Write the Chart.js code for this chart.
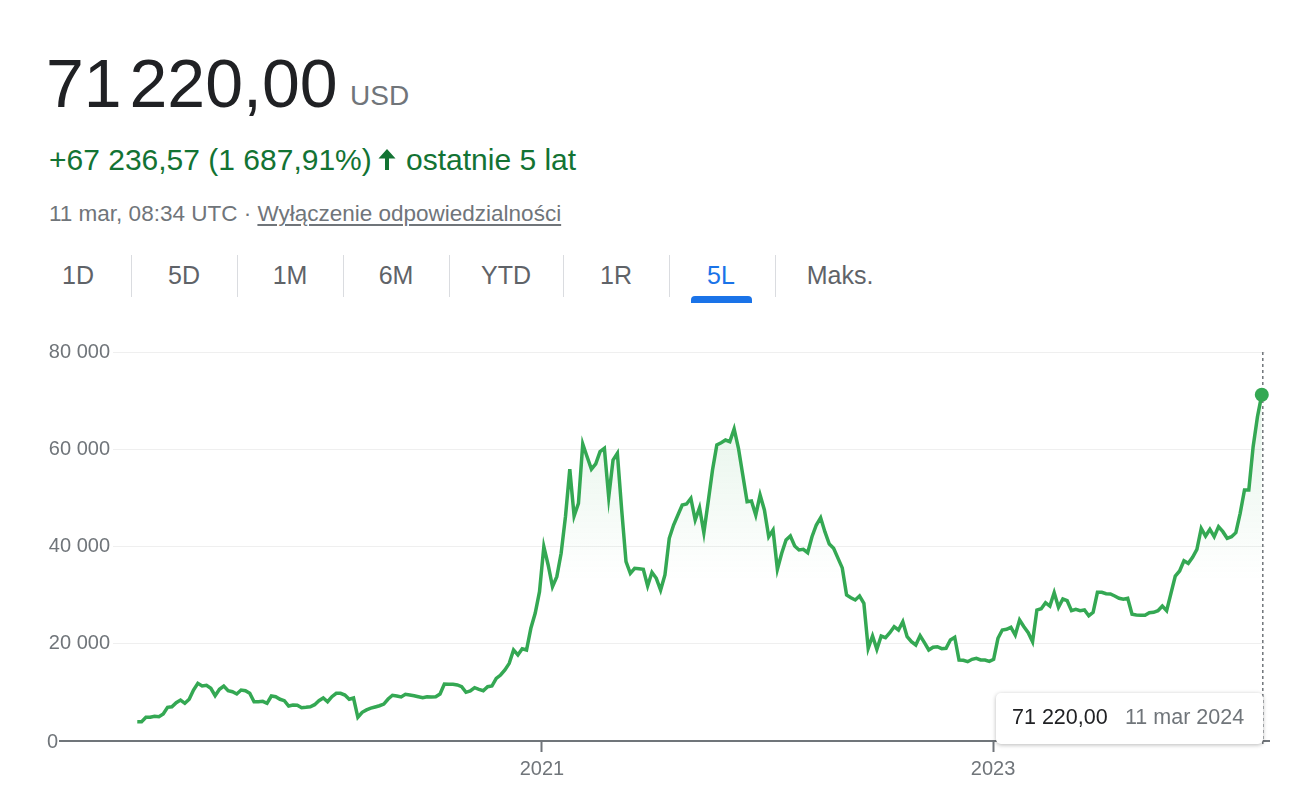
<!DOCTYPE html>
<html>
<head>
<meta charset="utf-8">
<script src="https://cdn.jsdelivr.net/npm/chart.js@4/dist/chart.umd.min.js"></script>
<style>
  html, body { margin:0; padding:0; background:#fff; width:1300px; height:800px; overflow:hidden;
    font-family: Arial, "Liberation Sans", sans-serif; }
  .abs { position:absolute; white-space:nowrap; }
  #price { left:46px; top:49px; font-size:68px; line-height:68px; color:#202124; word-spacing:-11px; }
  #cur { left:350px; top:82px; font-size:28px; line-height:28px; color:#70757a; }
  #chg { left:49px; top:145px; font-size:30px; line-height:30px; color:#137333; }
  #arrow { left:377px; top:148px; width:20px; height:22px; }
  #period { left:406px; top:145px; font-size:30px; line-height:30px; color:#137333; }
  #stamp { left:49px; top:203px; font-size:22.5px; line-height:22.5px; color:#70757a; }
  #stamp u { text-decoration-color:#70757a; text-underline-offset:3px; }
  .tab { top:263px; width:100px; text-align:center; font-size:25px; line-height:25px; color:#5f6368; }
  .sep { top:255px; width:1px; height:42px; background:#dadce0; }
  #bar { left:691px; top:296px; width:61px; height:7px; background:#1a73e8; border-radius:4px 4px 0 0; }
  #chartWrap { left:0; top:330px; width:1300px; height:470px; }
  #tip { left:996px; top:693px; width:267px; height:51px; background:#fff; border-radius:5px;
    box-shadow:0 1px 4px rgba(0,0,0,0.28); }
  #tipVal { left:16px; top:14px; font-size:21.5px; line-height:21.5px; color:#202124; }
  #tipDate { left:129px; top:14px; font-size:21.5px; line-height:21.5px; color:#70757a; }
</style>
</head>
<body>
<div class="abs" id="price">71 220,00</div>
<div class="abs" id="cur">USD</div>
<div class="abs" id="chg">+67 236,57 (1 687,91%)</div>
<svg class="abs" id="arrow" viewBox="0 0 20 22"><path d="M10 1 L18.5 10.5 L12 10.5 L12 22 L8 22 L8 10.5 L1.5 10.5 Z" fill="#137333"/></svg>
<div class="abs" id="period">ostatnie 5 lat</div>
<div class="abs" id="stamp">11 mar, 08:34 UTC · <u>Wyłączenie odpowiedzialności</u></div>

<div class="abs tab" style="left:28px">1D</div>
<div class="abs tab" style="left:134px">5D</div>
<div class="abs tab" style="left:240px">1M</div>
<div class="abs tab" style="left:346px">6M</div>
<div class="abs tab" style="left:456px">YTD</div>
<div class="abs tab" style="left:566px">1R</div>
<div class="abs tab" style="left:671px;color:#1a73e8">5L</div>
<div class="abs tab" style="left:790px">Maks.</div>
<div class="abs sep" style="left:131px"></div>
<div class="abs sep" style="left:237px"></div>
<div class="abs sep" style="left:343px"></div>
<div class="abs sep" style="left:449px"></div>
<div class="abs sep" style="left:563px"></div>
<div class="abs sep" style="left:669px"></div>
<div class="abs sep" style="left:775px"></div>
<div class="abs" id="bar"></div>

<div class="abs" id="chartWrap"><canvas id="c" width="1300" height="470"></canvas></div>

<div class="abs" id="tip"><div class="abs" id="tipVal"></div><div class="abs" id="tipDate"></div></div>

<script>
// ---- data ----
const startDate = '2019-03-18';          // first weekly observation
const stepDays = 7;                      // weekly series
const prices = [
  3980,3970,4870,4870,5080,5000,5550,6930,7050,7880,
  8430,7750,8580,10490,11860,11310,11450,10830,9320,10630,
  11310,10350,10140,9670,10490,10350,9810,8080,8080,8160,
  7750,9250,9110,8580,8290,7200,7400,7340,6850,6930,
  7050,7470,8290,8840,8080,9110,9810,9810,9460,8580,
  8840,4870,5900,6400,6750,7000,7250,7600,8640,9400,
  9250,9050,9600,9460,9320,9110,8910,9110,9050,9110,
  9670,11720,11660,11660,11520,11170,10010,10280,10960,10630,
  10350,11170,11310,12890,13570,14600,15970,18720,17690,18980,
  18720,23180,26260,30710,39960,36200,31740,33800,38600,46130,
  55880,46270,48880,61080,58470,55900,57000,59500,60190,50120,
  57790,59170,47510,36880,34490,35520,35440,35310,31880,34700,
  33460,31050,34140,41690,44420,46480,48540,48740,49910,45450,
  47980,42840,49210,55730,60880,61350,61900,61560,64170,60190,
  54700,49210,49360,46480,50590,47510,42020,43390,35310,38600,
  41340,42160,40100,39280,39420,38720,42020,44420,45920,43000,
  40500,39630,37600,35600,30030,29470,29000,29820,28320,19060,
  21590,18860,21590,21250,22270,23510,22830,24540,21450,20420,
  19740,21660,20220,18720,19270,19390,18980,19060,20770,21330,
  16660,16600,16310,16800,17010,16660,16660,16390,16800,21120,
  22830,22970,23380,21800,24880,23510,22270,20420,26940,27200,
  28440,27760,30500,27500,29200,28850,26800,27090,26800,26940,
  25770,26470,30580,30580,30290,30230,29820,29350,29140,29350,
  26060,25910,25850,25850,26390,26470,26800,27760,26800,30370,
  33930,34960,37080,36540,37780,39420,43740,42160,43540,42020,
  44080,43050,41690,42020,42840,46830,51620,51620,60530,66700,
  71220
];
const yTickValues = [0, 20000, 40000, 60000, 80000];
const xTickYears = [2021, 2023];
const monthsPL = ['sty','lut','mar','kwi','maj','cze','lip','sie','wrz','paź','lis','gru'];

// ---- helpers ----
const DAY = 86400000;
const t0 = Date.parse(startDate + 'T00:00:00Z');
const points = prices.map((p, i) => ({ x: t0 + i * stepDays * DAY, y: p }));
const last = points.length - 1;
const tEnd = points[last].x;
const grp = s => s.replace(/\B(?=(\d{3})+(?!\d))/g, ' ');
const fmtPrice = v => { const [a, b] = v.toFixed(2).split('.'); return grp(a) + ',' + b; };
const fmtDate = t => { const d = new Date(t); return d.getUTCDate() + ' ' + monthsPL[d.getUTCMonth()] + ' ' + d.getUTCFullYear(); };

document.getElementById('tipVal').textContent = fmtPrice(prices[last]);
document.getElementById('tipDate').textContent = fmtDate(tEnd);

const GREEN = '#34a853';
const GRAY = '#70757a';
Chart.defaults.font.family = 'Arial, "Liberation Sans", sans-serif';

const extras = {
  id: 'extras',
  beforeDatasetsDraw(chart) {
    const { ctx, chartArea } = chart;
    const x = chart.scales.x.getPixelForValue(tEnd);
    ctx.save();
    ctx.strokeStyle = GRAY;
    ctx.lineWidth = 1.5;
    ctx.setLineDash([3, 3]);
    ctx.beginPath();
    ctx.moveTo(x + 1, chartArea.top);
    ctx.lineTo(x + 1, chartArea.bottom + 3);
    ctx.stroke();
    ctx.restore();
  },
  afterDraw(chart) {
    const { ctx, chartArea } = chart;
    const y0 = chart.scales.y.getPixelForValue(0);
    ctx.save();
    ctx.strokeStyle = GRAY;
    ctx.lineWidth = 2;
    ctx.beginPath();
    ctx.moveTo(59, y0);
    ctx.lineTo(chartArea.left, y0);
    ctx.moveTo(chartArea.right, y0);
    ctx.lineTo(chartArea.right + 5, y0);
    ctx.stroke();
    ctx.fillStyle = GRAY;
    ctx.font = '20px Arial, "Liberation Sans", sans-serif';
    ctx.textAlign = 'right';
    ctx.textBaseline = 'middle';
    ctx.fillText('0', 58, y0 + 1);
    ctx.restore();
  }
};

new Chart(document.getElementById('c'), {
  type: 'line',
  data: {
    datasets: [{
      data: points,
      borderColor: GREEN,
      borderWidth: 3.5,
      tension: 0,
      fill: 'origin',
      backgroundColor: (c) => {
        const ch = c.chart;
        if (!ch.chartArea) return 'rgba(0,0,0,0)';
        const ys = ch.scales.y;
        const g = ch.ctx.createLinearGradient(0, ys.getPixelForValue(80000), 0, ys.getPixelForValue(33000));
        g.addColorStop(0, 'rgba(52,168,83,0.16)');
        g.addColorStop(1, 'rgba(52,168,83,0)');
        return g;
      },
      pointRadius: (c) => c.dataIndex === last ? 7 : 0,
      pointHoverRadius: 0,
      pointBackgroundColor: GREEN,
      pointBorderWidth: 0,
      clip: false
    }]
  },
  options: {
    responsive: false,
    devicePixelRatio: 1,
    animation: false,
    events: [],
    layout: { padding: { top: 22, right: 35, left: 0, bottom: 0 } },
    plugins: { legend: { display: false }, tooltip: { enabled: false } },
    scales: {
      x: {
        type: 'linear',
        min: t0 - 39.3 * DAY,
        max: tEnd + 5.2 * DAY,
        afterBuildTicks: s => { s.ticks = xTickYears.map(y => ({ value: Date.UTC(y, 0, 1) })); },
        afterFit: s => { s.height = 59; },
        ticks: {
          callback: v => String(new Date(v).getUTCFullYear()),
          color: GRAY, font: { size: 20 }, padding: 5, maxRotation: 0, autoSkip: false
        },
        grid: { drawOnChartArea: false, drawTicks: true, tickLength: 11, tickColor: GRAY, tickWidth: 2, color: GRAY },
        border: { display: true, color: GRAY, width: 2 }
      },
      y: {
        min: 0, max: 80000,
        afterBuildTicks: s => { s.ticks = yTickValues.map(v => ({ value: v })); },
        afterFit: s => { s.width = 113; },
        ticks: {
          callback: v => v === 0 ? '' : grp(String(v)),
          color: GRAY, font: { size: 20 }, padding: 3
        },
        grid: { color: '#efefef', lineWidth: 1, drawTicks: false },
        border: { display: false }
      }
    }
  },
  plugins: [extras]
});
</script>
</body>
</html>
